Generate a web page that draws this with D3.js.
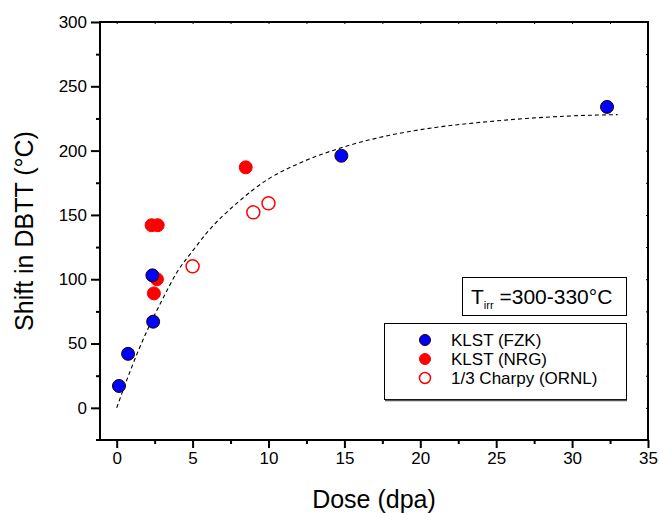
<!DOCTYPE html>
<html lang="en">
<head>
    <meta charset="UTF-8">
    <title>Shift in DBTT vs dose</title>
    <style>
        html, body {
            margin: 0px;
            padding: 0px;
            background-color: white;
            font-family: Arial, 'Liberation Sans', sans-serif;
        }
        #vis {
            width: 659px;
            height: 513px;
        }
        text.tick {
            font-size: 17px;
        }
        text.title {
            font-size: 25px;
        }
        text.leg {
            font-size: 17px;
        }
    </style>
</head>
<body>
    <div id="vis"></div>
    <script src="https://d3js.org/d3.v7.min.js"></script>
    <script>

        // values
        var fzkDose  = [0.15, 0.75, 2.4, 2.35, 14.8, 32.3];
        var fzkShift = [17, 42, 67, 103, 196, 234];

        var nrgDose  = [2.3, 2.7, 2.65, 2.45, 8.5];
        var nrgShift = [142, 142, 100, 89, 187];

        var ornlDose  = [5, 9, 10];
        var ornlShift = [110, 152, 159];

        // dashed fit line as traced
        var fitDose  = [0, 1, 2, 3, 4, 5, 6, 8, 10, 12, 15, 18, 21, 24, 27, 30, 33];
        var fitShift = [0, 32, 60, 84, 106, 122, 137, 160, 178, 190, 203, 212, 218, 222, 225, 227, 228];

        var xTicks = [0, 5, 10, 15, 20, 25, 30, 35];
        var yTicks = [0, 50, 100, 150, 200, 250, 300];
        var xMinor = [2.5, 7.5, 12.5, 17.5, 22.5, 27.5, 32.5];
        var yMinor = [25, 75, 125, 175, 225, 275];

        var legendLabels = ["KLST (FZK)", "KLST (NRG)", "1/3 Charpy (ORNL)"];

        var width = 659;
        var height = 513;
        var margin = {top: 22, right: 11, bottom: 73, left: 100};

        var svg = d3.select("#vis")
            .append("svg")
            .attr("width", width)
            .attr("height", height);

        var x_scale = d3.scaleLinear()
            .domain([-1.1, 35])
            .range([margin.left, width - margin.right]);

        var y_scale = d3.scaleLinear()
            .domain([-25, 300])
            .range([height - margin.bottom, margin.top]);

        var x0 = margin.left, x1 = width - margin.right;
        var y0 = height - margin.bottom, y1 = margin.top;

        // frame
        svg.append("rect")
            .attr("x", x0).attr("y", y1)
            .attr("width", x1 - x0).attr("height", y0 - y1)
            .attr("fill", "none")
            .attr("stroke", "#000")
            .attr("stroke-width", 2);
        // bottom line runs a little past the left axis
        svg.append("line")
            .attr("x1", x0 - 4).attr("x2", x0)
            .attr("y1", y0).attr("y2", y0)
            .attr("stroke", "#000")
            .attr("stroke-width", 2);

        // bottom axis
        var x_axis = d3.axisBottom(x_scale)
            .tickValues(xTicks)
            .tickSize(8)
            .tickSizeOuter(0)
            .tickPadding(4);
        var gx = svg.append("g")
            .attr("class", "x axis")
            .attr("transform", "translate(0," + y0 + ")")
            .call(x_axis);
        gx.select(".domain").remove();
        gx.selectAll("line").attr("stroke-width", 2);
        gx.selectAll("text")
            .attr("class", "tick")
            .attr("font-family", "Arial, 'Liberation Sans', sans-serif")
            .attr("fill", "#000");

        var gxm = svg.append("g")
            .attr("transform", "translate(0," + y0 + ")")
            .call(d3.axisBottom(x_scale).tickValues(xMinor).tickSize(4).tickFormat(""));
        gxm.select(".domain").remove();
        gxm.selectAll("line").attr("stroke-width", 2);

        // left axis
        var y_axis = d3.axisLeft(y_scale)
            .tickValues(yTicks)
            .tickSize(9)
            .tickSizeOuter(0)
            .tickPadding(4);
        var gy = svg.append("g")
            .attr("class", "y axis")
            .attr("transform", "translate(" + x0 + ",0)")
            .call(y_axis);
        gy.select(".domain").remove();
        gy.selectAll("line").attr("stroke-width", 2);
        gy.selectAll("text")
            .attr("class", "tick")
            .attr("font-family", "Arial, 'Liberation Sans', sans-serif")
            .attr("fill", "#000");

        var gym = svg.append("g")
            .attr("transform", "translate(" + x0 + ",0)")
            .call(d3.axisLeft(y_scale).tickValues(yMinor).tickSize(4).tickFormat(""));
        gym.select(".domain").remove();
        gym.selectAll("line").attr("stroke-width", 2);

        // small inner ticks on top and right
        var gt = svg.append("g")
            .attr("transform", "translate(0," + y1 + ")")
            .call(d3.axisBottom(x_scale).tickValues(xTicks.concat(xMinor)).tickSize(2).tickFormat(""));
        gt.select(".domain").remove();
        var gr = svg.append("g")
            .attr("transform", "translate(" + x1 + ",0)")
            .call(d3.axisLeft(y_scale).tickValues(yTicks.concat(yMinor)).tickSize(2).tickFormat(""));
        gr.select(".domain").remove();

        // axis titles
        svg.append("text")
            .attr("class", "title")
            .attr("x", (x0 + x1) / 2)
            .attr("y", 508)
            .attr("text-anchor", "middle")
            .text("Dose (dpa)");

        svg.append("text")
            .attr("class", "title")
            .attr("transform", "translate(33," + ((y0 + y1) / 2) + ") rotate(-90)")
            .attr("text-anchor", "middle")
            .text("Shift in DBTT (\u00B0C)");

        // fit line
        var fitData = fitDose.map(function(d, i){ return [d, fitShift[i]]; });
        var line = d3.line()
            .x(function(d){ return x_scale(d[0]); })
            .y(function(d){ return y_scale(d[1]); })
            .curve(d3.curveMonotoneX);

        svg.append("path")
            .datum(fitData)
            .attr("d", line)
            .attr("fill", "none")
            .attr("stroke", "#000")
            .attr("stroke-width", 1.1)
            .attr("stroke-dasharray", "4,3");

        // points
        function drawPoints(xs, ys, fill, stroke, sw){
            svg.append("g")
                .selectAll("circle")
                .data(xs.map(function(d, i){ return [d, ys[i]]; }))
                .enter()
                .append("circle")
                .attr("cx", function(d){ return x_scale(d[0]); })
                .attr("cy", function(d){ return y_scale(d[1]); })
                .attr("r", 6.5)
                .attr("fill", fill)
                .attr("stroke", stroke)
                .attr("stroke-width", sw);
        }

        drawPoints(nrgDose, nrgShift, "#ff0000", "#ff0000", 1);
        drawPoints(ornlDose, ornlShift, "#ffffff", "#ff0000", 1.5);
        drawPoints(fzkDose, fzkShift, "#0000ff", "#200000", 1);

        // temperature label box
        svg.append("rect")
            .attr("x", 462.5).attr("y", 277.5)
            .attr("width", 164).attr("height", 38)
            .attr("fill", "#fff")
            .attr("stroke", "#000")
            .attr("stroke-width", 1);

        var tLabel = svg.append("text")
            .attr("x", 471)
            .attr("y", 304)
            .attr("font-size", "21px");
        tLabel.append("tspan").text("T");
        tLabel.append("tspan").attr("font-size", "11px").attr("dy", 5).text("irr");
        tLabel.append("tspan").attr("dy", -5).text(" =300-330\u00B0C");

        // legend
        svg.append("rect")
            .attr("x", 384.5).attr("y", 323.5)
            .attr("width", 242).attr("height", 76)
            .attr("fill", "#fff")
            .attr("stroke", "#000")
            .attr("stroke-width", 1);
        svg.append("line")
            .attr("x1", 385).attr("x2", 627)
            .attr("y1", 400.5).attr("y2", 400.5)
            .attr("stroke", "#555")
            .attr("stroke-width", 1.5);

        var legFill = ["#0000ff", "#ff0000", "#ffffff"];
        var legStroke = ["#200000", "#ff0000", "#ff0000"];
        var legY = [340, 359, 378];

        var leg = svg.append("g")
            .selectAll("g")
            .data(legendLabels)
            .enter()
            .append("g");

        leg.append("circle")
            .attr("cx", 425)
            .attr("cy", function(d, i){ return legY[i]; })
            .attr("r", 5.5)
            .attr("fill", function(d, i){ return legFill[i]; })
            .attr("stroke", function(d, i){ return legStroke[i]; })
            .attr("stroke-width", function(d, i){ return i == 2 ? 1.5 : 1; });

        leg.append("text")
            .attr("class", "leg")
            .attr("x", 451)
            .attr("y", function(d, i){ return legY[i] + 6; })
            .text(function(d){ return d; });

    </script>
</body>
</html>
